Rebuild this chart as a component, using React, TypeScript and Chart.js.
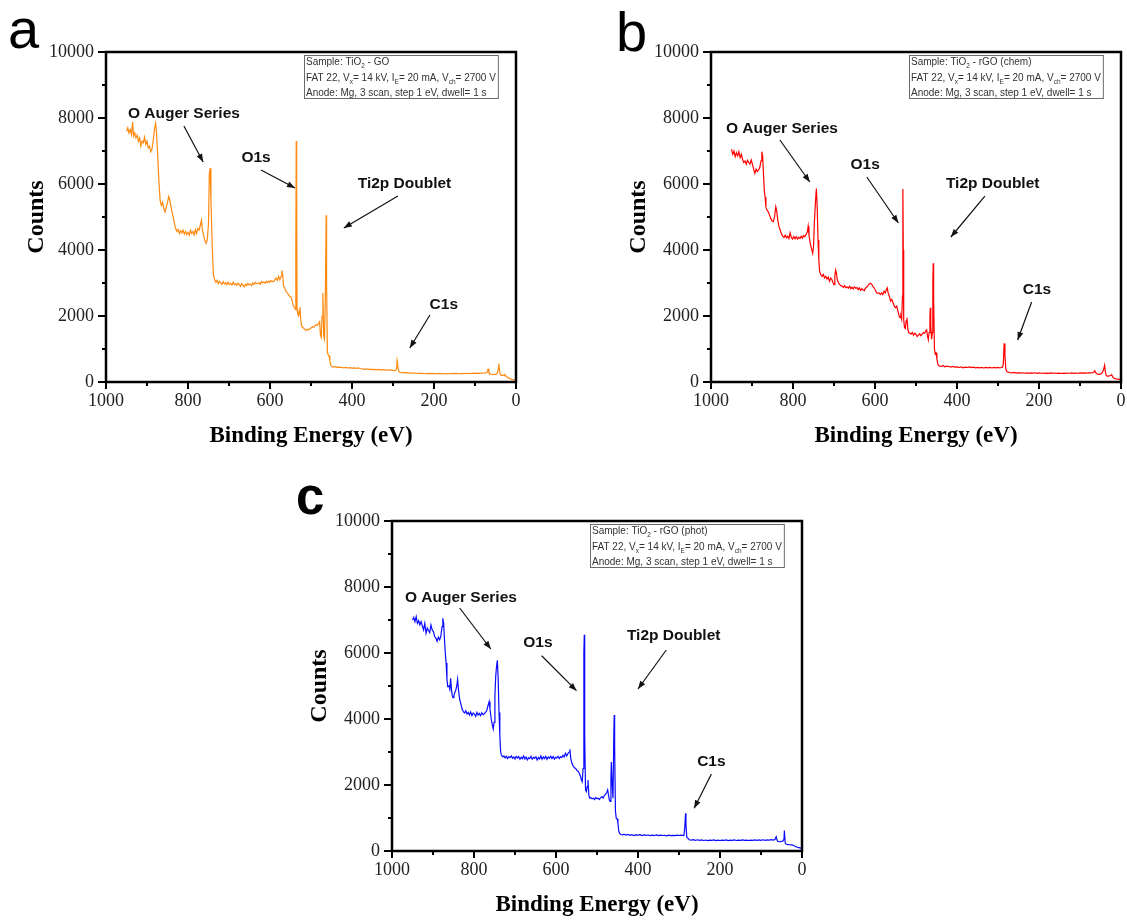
import React, { useEffect, useRef } from "react";
import { Chart, registerables } from "chart.js";

Chart.register(...registerables);

// ---------- axis ticks ----------
const Y_TICKS = [0, 2000, 4000, 6000, 8000, 10000];
const Y_MINOR = [1000, 3000, 5000, 7000, 9000];
const X_TICKS = [0, 200, 400, 600, 800, 1000];
const X_MINOR = [100, 300, 500, 700, 900];

// ---------- panel a : TiO2 - GO ----------
const ENERGY_A = [
  950, 947, 944, 941, 938, 935, 933, 930, 927, 924,
  921, 918, 915, 912, 909, 906, 903, 900, 897, 894,
  891, 888, 885, 882, 879, 877, 874, 871, 868, 865,
  862, 859, 856, 853, 850, 847, 845, 842, 839, 836,
  833, 830, 827, 824, 821, 818, 815, 812, 809, 806,
  803, 800, 797, 794, 791, 788, 785, 782, 779, 776,
  773, 770, 767, 765, 762, 759, 756, 753, 750, 748,
  746, 744, 742, 740, 738, 735, 732, 729, 726, 723,
  720, 717, 714, 711, 708, 705, 702, 699, 696, 693,
  690, 687, 684, 681, 678, 675, 672, 669, 666, 663,
  660, 657, 654, 651, 648, 645, 642, 639, 636, 633,
  630, 627, 624, 621, 618, 615, 612, 609, 606, 603,
  600, 597, 594, 591, 588, 585, 582, 579, 576, 573,
  571, 569, 567, 564, 561, 558, 555, 552, 549, 546,
  543, 540, 538, 537, 536, 535, 534, 532, 530, 528,
  527, 525, 523, 520, 517, 514, 511, 508, 505, 502,
  499, 496, 493, 490, 487, 484, 481, 479, 477, 475,
  473, 471, 469, 467, 465, 463, 462, 460, 458, 456,
  454, 452, 449, 446, 443, 440, 437, 434, 431, 428,
  425, 420, 415, 410, 405, 400, 395, 390, 385, 380,
  375, 370, 365, 360, 355, 350, 345, 340, 335, 330,
  325, 320, 315, 310, 305, 300, 296, 293, 291, 290,
  289, 287, 285, 282, 278, 274, 270, 265, 260, 255,
  250, 245, 240, 235, 230, 225, 220, 215, 210, 205,
  200, 195, 190, 185, 180, 175, 170, 165, 160, 155,
  150, 145, 140, 135, 130, 125, 120, 115, 110, 105,
  100, 95, 90, 85, 80, 75, 72, 70, 68, 66,
  63, 60, 56, 52, 48, 45, 43, 42, 40, 38,
  35, 32, 29, 27, 25, 22, 19, 16, 13, 10,
  7, 4, 2,
];
const COUNTS_A = [
  7600, 7700, 7550, 7650, 7500, 7880, 7450, 7550, 7400, 7480,
  7300, 7400, 7150, 7300, 7250, 7420, 7200, 7300, 7100, 7150,
  6980, 7050, 7300, 7650, 7840, 7600, 6900, 6100, 5500, 5350,
  5450, 5250, 5150, 5300, 5450, 5620, 5550, 5350, 5150, 5000,
  4800, 4650, 4560, 4620, 4500, 4580, 4520, 4600, 4480, 4560,
  4470, 4530, 4450, 4600, 4500, 4560, 4460, 4620, 4500, 4650,
  4600, 4750, 4900, 4600, 4450, 4300, 4200, 4300, 4800, 6300,
  6480, 5500, 4600, 3800, 3250, 3100, 3020, 3080, 2980, 3050,
  3000, 2960, 3040, 2970, 3010, 2950, 3030, 2960, 2990, 2940,
  3020, 2950, 2980, 2930, 3000, 2950, 2900, 2980, 2940, 2880,
  2960, 2920, 2990, 2940, 2970, 2920, 3000, 2950, 3020, 2980,
  2990, 3010, 2960, 3040, 3000, 3030, 2990, 3050, 3010, 3060,
  3020, 3080, 3040, 3050, 3100, 3150, 3080, 3200, 3100, 3200,
  3380, 3250, 2900, 2850, 2750, 2700, 2650, 2600, 2580, 2450,
  2300, 2250, 2200, 4000, 7300, 6000, 2200, 2050, 2000, 2150,
  2270, 1900, 1700, 1650, 1620, 1580, 1560, 1600, 1580, 1620,
  1640, 1680, 1660, 1700, 1740, 1720, 1790, 1830, 1420, 1350,
  2000, 2700, 1400, 1300, 2600, 5050, 3000, 900, 820, 800,
  650, 520, 470, 455, 470, 450, 460, 445, 450, 440,
  445, 430, 440, 425, 435, 420, 430, 415, 425, 410,
  400, 385, 395, 380, 390, 375, 385, 370, 380, 365,
  375, 360, 370, 355, 365, 350, 345, 360, 420, 640,
  560, 360, 310, 295, 285, 290, 275, 285, 270, 280,
  260, 272, 258, 268, 255, 265, 250, 262, 255, 260,
  248, 258, 252, 262, 250, 258, 245, 255, 250, 260,
  252, 262, 250, 258, 255, 265, 252, 262, 258, 268,
  260, 270, 262, 272, 265, 275, 280, 300, 390, 300,
  250, 235, 225, 230, 240, 280, 420, 560, 330, 210,
  200, 215, 190, 220, 180, 150, 130, 110, 95, 80,
  70, 65, 60,
];

// ---------- panel b : TiO2 - rGO (chem) ----------
const ENERGY_B = [
  950, 947, 944, 941, 938, 935, 932, 929, 926, 923,
  920, 917, 914, 911, 908, 905, 902, 899, 896, 893,
  890, 887, 884, 881, 878, 876, 874, 872, 870, 868,
  866, 863, 860, 857, 854, 851, 848, 845, 842, 840,
  837, 834, 831, 828, 825, 822, 819, 816, 813, 810,
  807, 804, 801, 798, 795, 792, 789, 786, 783, 780,
  777, 774, 771, 768, 765, 763, 761, 758, 755, 752,
  750, 748, 745, 743, 741, 739, 737, 735, 732, 729,
  726, 723, 720, 717, 714, 711, 708, 705, 702, 700,
  698, 696, 694, 692, 689, 686, 683, 680, 677, 674,
  671, 668, 665, 662, 659, 656, 653, 650, 647, 644,
  641, 638, 635, 632, 629, 626, 623, 620, 617, 614,
  611, 608, 605, 602, 599, 596, 593, 590, 587, 584,
  581, 578, 575, 572, 570, 568, 565, 562, 559, 556,
  553, 550, 547, 544, 541, 539, 537, 535, 533, 532,
  531, 530, 528, 526, 524, 522, 520, 518, 515, 512,
  509, 506, 503, 500, 497, 494, 491, 488, 485, 482,
  479, 476, 474, 472, 470, 468, 466, 465, 464, 462,
  460, 459, 458, 457, 455, 453, 451, 449, 447, 445,
  442, 438, 434, 430, 425, 420, 415, 410, 405, 400,
  395, 390, 385, 380, 375, 370, 365, 360, 355, 350,
  345, 340, 335, 330, 325, 320, 315, 310, 305, 300,
  296, 292, 289, 287, 285, 283, 281, 278, 275, 270,
  265, 260, 255, 250, 245, 240, 235, 230, 225, 220,
  215, 210, 205, 200, 195, 190, 185, 180, 175, 170,
  165, 160, 155, 150, 145, 140, 135, 130, 125, 120,
  115, 110, 105, 100, 95, 90, 85, 80, 75, 70,
  66, 64, 62, 60, 57, 53, 49, 45, 42, 40,
  38, 36, 33, 30, 27, 24, 22, 19, 16, 12,
  8, 5, 2,
];
const COUNTS_B = [
  7050, 6900, 7000, 6830, 6950, 6850, 6980, 6800, 6900, 6750,
  6650, 6700, 6600, 6720, 6650, 6600, 6730, 6600, 6450, 6320,
  6450, 6380, 6430, 6500, 6700, 6980, 6850, 6300, 5800, 5600,
  5300, 5200, 5150, 5050, 4950, 4880, 4860, 5000, 5310, 5200,
  4900, 4700, 4600, 4480, 4420, 4380, 4450, 4370, 4420, 4350,
  4520, 4380, 4330, 4410, 4340, 4400, 4330, 4390, 4350, 4420,
  4360, 4440, 4400, 4480, 4550, 4720, 4450, 4200, 4050, 3900,
  4100, 4800, 5500, 5860, 5300, 4300, 3700, 3350, 3250, 3200,
  3260, 3150, 3200, 3120, 3180, 3050, 3150, 3100, 3000, 2950,
  3200, 3390, 3300, 3100, 3000, 2950, 2920, 2900, 2870, 2920,
  2860, 2880, 2840, 2900, 2830, 2870, 2820, 2880, 2840, 2860,
  2800, 2850, 2780, 2830, 2790, 2770, 2850, 2880, 2920, 2970,
  2990, 2960, 2900, 2850, 2780, 2700, 2690, 2700, 2650, 2700,
  2650, 2750, 2700, 2800, 2850, 2700, 2600, 2450, 2500, 2400,
  2300, 2250, 2300, 2150, 2000, 1950, 2000, 1900, 2600, 5850,
  4000, 1900, 1650, 1620, 1850, 1950, 1600, 1500, 1480, 1450,
  1500, 1420, 1480, 1440, 1380, 1420, 1460, 1400, 1450, 1500,
  1480, 1550, 1580, 1400, 1280, 1500, 2000, 2250, 1700, 1300,
  1500, 3000, 3600, 2500, 1000, 850, 880, 700, 550, 500,
  480, 470, 500, 460, 480, 470, 450, 470, 450, 460,
  440, 460, 430, 450, 440, 455, 435, 450, 430, 445,
  430, 445, 425, 440, 430, 445, 425, 440, 430, 440,
  430, 440, 450, 550, 1170, 800, 400, 310, 300, 285,
  275, 290, 270, 285, 268, 280, 265, 278, 262, 275,
  268, 280, 262, 275, 265, 272, 260, 270, 262, 275,
  265, 272, 262, 270, 258, 268, 262, 272, 265, 275,
  262, 270, 265, 275, 268, 278, 270, 280, 275, 285,
  300, 340, 290, 260, 240, 230, 245, 300, 400, 510,
  300, 200, 170, 185, 190, 200, 205, 130, 110, 90,
  85, 82, 80,
];

// ---------- panel c : TiO2 - rGO (phot) ----------
const ENERGY_C = [
  950, 947, 944, 941, 938, 935, 932, 929, 926, 923,
  920, 917, 914, 911, 908, 905, 902, 899, 896, 893,
  890, 887, 884, 881, 878, 876, 874, 872, 870, 868,
  866, 864, 861, 859, 857, 855, 853, 851, 849, 847,
  845, 842, 840, 838, 835, 832, 829, 826, 823, 820,
  817, 814, 811, 808, 805, 802, 799, 796, 793, 790,
  787, 784, 781, 778, 775, 772, 769, 766, 763, 761,
  758, 755, 753, 751, 749, 747, 745, 743, 741, 739,
  737, 735, 733, 730, 727, 724, 721, 718, 715, 712,
  709, 706, 703, 700, 697, 694, 691, 688, 685, 682,
  679, 676, 673, 670, 667, 664, 661, 658, 655, 652,
  649, 646, 643, 640, 637, 634, 631, 628, 625, 622,
  619, 616, 613, 610, 607, 604, 601, 598, 595, 592,
  589, 586, 583, 580, 577, 574, 571, 568, 566, 564,
  561, 558, 555, 552, 549, 546, 543, 540, 538, 536,
  534, 532, 531, 530, 528, 526, 524, 522, 520, 518,
  515, 512, 509, 506, 503, 500, 497, 494, 491, 488,
  485, 482, 479, 476, 474, 472, 470, 468, 466, 465,
  463, 461, 459, 458, 457, 455, 453, 451, 449, 447,
  445, 442, 438, 434, 430, 425, 420, 415, 410, 405,
  400, 395, 390, 385, 380, 375, 370, 365, 360, 355,
  350, 345, 340, 335, 330, 325, 320, 315, 310, 305,
  300, 296, 292, 288, 286, 284, 283, 281, 278, 275,
  270, 265, 260, 255, 250, 245, 240, 235, 230, 225,
  220, 215, 210, 205, 200, 195, 190, 185, 180, 175,
  170, 165, 160, 155, 150, 145, 140, 135, 130, 125,
  120, 115, 110, 105, 100, 95, 90, 85, 80, 75,
  70, 66, 63, 60, 57, 54, 50, 47, 44, 43,
  41, 39, 37, 33, 30, 26, 23, 18, 15, 10,
  5, 1,
];
const COUNTS_C = [
  7000, 7080, 6950, 7100, 6900, 6980, 6850, 6950, 6820, 6700,
  6900, 6600, 6750, 6680, 6620, 6850, 6700, 6650, 6500, 6450,
  6350, 6480, 6400, 6500, 6800, 7050, 6900, 6400, 6000, 5700,
  5200, 4980, 5000, 4900, 5230, 4900, 4700, 4650, 4700, 4800,
  4850, 5000, 5200, 4900, 4600, 4450, 4300, 4220, 4180, 4250,
  4150, 4200, 4120, 4210, 4100, 4180, 4150, 4080, 4200, 4120,
  4170, 4100, 4190, 4130, 4160, 4200, 4250, 4400, 4530, 4300,
  4000, 3800, 3700, 3900, 4700, 5300, 5600, 5780, 5200, 4200,
  3500, 3000, 2900, 2850, 2880, 2820, 2870, 2800, 2860, 2830,
  2880, 2810, 2850, 2790, 2870, 2820, 2860, 2780, 2840, 2800,
  2880, 2790, 2850, 2760, 2830, 2800, 2870, 2780, 2840, 2810,
  2860, 2760, 2830, 2790, 2880, 2780, 2850, 2800, 2870, 2780,
  2850, 2810, 2870, 2800, 2860, 2780, 2840, 2820, 2870, 2800,
  2860, 2830, 2900, 2850, 2960, 2880, 2950, 3000, 3080, 2800,
  2650, 2580, 2520, 2500, 2440, 2420, 2350, 2250, 2150, 2100,
  2500, 6000, 6550, 3500, 1850, 1800, 1950, 2150, 1700, 1600,
  1620, 1580, 1600, 1560, 1620, 1580, 1600, 1560, 1620, 1650,
  1600, 1680, 1720, 1780, 1850, 1700, 1550, 1500, 2200, 2700,
  2000, 1600, 3500, 4120, 3200, 1200, 990, 980, 850, 600,
  530, 500, 490, 510, 480, 500, 475, 495, 470, 490,
  480, 495, 470, 490, 475, 485, 465, 480, 470, 485,
  465, 480, 470, 475, 460, 478, 465, 475, 468, 480,
  470, 480, 475, 470, 700, 1140, 800, 420, 380, 340,
  330, 345, 325, 340, 320, 335, 318, 332, 315, 330,
  320, 335, 315, 330, 318, 332, 320, 335, 315, 328,
  322, 335, 318, 330, 320, 338, 322, 332, 318, 330,
  325, 338, 320, 335, 322, 340, 325, 335, 330, 345,
  330, 350, 430, 300, 285, 280, 290, 300, 350, 620,
  250, 210, 200, 195, 190, 185, 180, 150, 130, 110,
  95, 80,
];

// ---------- texts ----------
const PEAK_NAMES = ["O Auger Series", "O1s", "Ti2p Doublet", "C1s"];
const SAMPLES = ["GO", "rGO (chem)", "rGO (phot)"];
const X_TITLE = "Binding Energy (eV)";
const Y_TITLE = "Counts";

type Seg = [string, boolean];
const legendLines = (sample: string): Seg[][] => [
  [["Sample: TiO", false], ["2", true], [" - " + sample, false]],
  [["FAT 22, V", false], ["x", true], ["= 14 kV, I", false], ["E", true], ["= 20 mA, V", false], ["ch", true], ["= 2700 V", false]],
  [["Anode: Mg, 3 scan, step 1 eV, dwell= 1 s", false]],
];

type Note = { text: string; at: [number, number]; from: [number, number]; to: [number, number] };

type PanelCfg = {
  letter: string;
  letterFont: string;
  letterPos: [number, number];
  left: number; top: number; w: number; h: number;
  pad: { left: number; top: number; right: number; bottom: number };
  xHeight: number;
  xTitlePad: number;
  yTitlePad: number;
  color: string;
  energy: number[];
  counts: number[];
  sample: string;
  notes: Note[];
};

const SANS = '"Liberation Sans", Arial, Helvetica, sans-serif';
const SERIF = '"Liberation Serif", "Times New Roman", Times, serif';

const PANELS: PanelCfg[] = [
  {
    letter: "a", letterFont: `56px ${SANS}`, letterPos: [8, 48],
    left: 0, top: 0, w: 560, h: 460,
    pad: { left: 0, top: 52, right: 44, bottom: 0 },
    xHeight: 78, xTitlePad: 10, yTitlePad: 22,
    color: "#ff8a10", energy: ENERGY_A, counts: COUNTS_A, sample: SAMPLES[0],
    notes: [
      { text: PEAK_NAMES[0], at: [810, 8121], from: [810, 7758], to: [763, 6667] },
      { text: PEAK_NAMES[1], at: [634, 6788], from: [622, 6424], to: [539, 5879] },
      { text: PEAK_NAMES[2], at: [272, 6000], from: [288, 5636], to: [420, 4667] },
      { text: PEAK_NAMES[3], at: [176, 2333], from: [210, 2030], to: [259, 1030] },
    ],
  },
  {
    letter: "b", letterFont: `56px ${SANS}`, letterPos: [56, 51],
    left: 560, top: 0, w: 567, h: 460,
    pad: { left: 45, top: 52, right: 6, bottom: 0 },
    xHeight: 78, xTitlePad: 10, yTitlePad: 19,
    color: "#ff0000", energy: ENERGY_B, counts: COUNTS_B, sample: SAMPLES[1],
    notes: [
      { text: PEAK_NAMES[0], at: [827, 7667], from: [832, 7333], to: [759, 6061] },
      { text: PEAK_NAMES[1], at: [624, 6576], from: [620, 6212], to: [543, 4818] },
      { text: PEAK_NAMES[2], at: [313, 6000], from: [332, 5636], to: [415, 4394] },
      { text: PEAK_NAMES[3], at: [205, 2788], from: [218, 2424], to: [252, 1273] },
    ],
  },
  {
    letter: "c", letterFont: `bold 51px ${SANS}`, letterPos: [16, 44],
    left: 280, top: 470, w: 566, h: 450,
    pad: { left: 6, top: 51, right: 44, bottom: 0 },
    xHeight: 69, xTitlePad: 1, yTitlePad: 19,
    color: "#0a0aff", energy: ENERGY_C, counts: COUNTS_C, sample: SAMPLES[2],
    notes: [
      { text: PEAK_NAMES[0], at: [832, 7676], from: [835, 7364], to: [759, 6121] },
      { text: PEAK_NAMES[1], at: [644, 6312], from: [635, 5918], to: [550, 4858] },
      { text: PEAK_NAMES[2], at: [313, 6524], from: [331, 6091], to: [400, 4909] },
      { text: PEAK_NAMES[3], at: [221, 2706], from: [221, 2333], to: [263, 1294] },
    ],
  },
];

function drawArrow(ctx: CanvasRenderingContext2D, x0: number, y0: number, x1: number, y1: number) {
  ctx.beginPath();
  ctx.moveTo(x0, y0);
  ctx.lineTo(x1, y1);
  ctx.stroke();
  const ang = Math.atan2(y1 - y0, x1 - x0);
  const L = 8, W = 3;
  const c = Math.cos(ang), s = Math.sin(ang);
  ctx.beginPath();
  ctx.moveTo(x1, y1);
  ctx.lineTo(x1 - L * c + W * s, y1 - L * s - W * c);
  ctx.lineTo(x1 - L * c - W * s, y1 - L * s + W * c);
  ctx.closePath();
  ctx.fill();
}

function makeDecor(p: PanelCfg) {
  return {
    id: "decor" + p.letter,
    afterDatasetsDraw(chart: any) {
      const { ctx, chartArea: a, scales } = chart;
      const xs = scales.x, ys = scales.y;
      ctx.save();
      // frame
      ctx.strokeStyle = "#000";
      ctx.lineWidth = 2.5;
      ctx.strokeRect(a.left, a.top, a.right - a.left, a.bottom - a.top);
      // ticks (outward)
      ctx.lineWidth = 2;
      ctx.beginPath();
      for (const v of Y_TICKS) { const y = ys.getPixelForValue(v); ctx.moveTo(a.left - 8, y); ctx.lineTo(a.left, y); }
      for (const v of Y_MINOR) { const y = ys.getPixelForValue(v); ctx.moveTo(a.left - 4, y); ctx.lineTo(a.left, y); }
      for (const v of X_TICKS) { const x = xs.getPixelForValue(v); ctx.moveTo(x, a.bottom); ctx.lineTo(x, a.bottom + 7); }
      for (const v of X_MINOR) { const x = xs.getPixelForValue(v); ctx.moveTo(x, a.bottom); ctx.lineTo(x, a.bottom + 4); }
      ctx.stroke();

      // annotations
      ctx.fillStyle = "#111";
      ctx.strokeStyle = "#111";
      ctx.lineWidth = 1.2;
      ctx.font = `bold 15.5px ${SANS}`;
      ctx.textAlign = "center";
      ctx.textBaseline = "middle";
      for (const n of p.notes) {
        ctx.fillText(n.text, xs.getPixelForValue(n.at[0]), ys.getPixelForValue(n.at[1]));
        drawArrow(ctx,
          xs.getPixelForValue(n.from[0]), ys.getPixelForValue(n.from[1]),
          xs.getPixelForValue(n.to[0]), ys.getPixelForValue(n.to[1]));
      }

      // legend box
      const lines = legendLines(p.sample);
      const fs = 10, ss = 6.5;
      const widths = lines.map((line) =>
        line.reduce((w, [t, sub]) => {
          ctx.font = `${sub ? ss : fs}px ${SANS}`;
          return w + ctx.measureText(t).width;
        }, 0)
      );
      const bw = Math.max(...widths) + 4;
      const bh = 43;
      const bx = Math.round(a.right - 18 - bw);
      const by = Math.round(a.top + 3);
      ctx.fillStyle = "#fff";
      ctx.fillRect(bx, by, bw, bh);
      ctx.strokeStyle = "#6a6a6a";
      ctx.lineWidth = 1;
      ctx.strokeRect(bx + 0.5, by + 0.5, bw, bh);
      ctx.textAlign = "left";
      ctx.textBaseline = "alphabetic";
      ctx.fillStyle = "#333";
      const bases = [10, 26, 41];
      lines.forEach((line, i) => {
        let x = bx + 2;
        for (const [t, sub] of line) {
          ctx.font = `${sub ? ss : fs}px ${SANS}`;
          ctx.fillText(t, x, by + bases[i] + (sub ? 3 : 0));
          x += ctx.measureText(t).width;
        }
      });

      // panel letter
      ctx.fillStyle = "#000";
      ctx.font = p.letterFont;
      ctx.textAlign = "left";
      ctx.textBaseline = "alphabetic";
      ctx.fillText(p.letter, p.letterPos[0], p.letterPos[1]);
      ctx.restore();
    },
  };
}

function Panel({ p }: { p: PanelCfg }) {
  const ref = useRef<HTMLCanvasElement>(null);
  useEffect(() => {
    const canvas = ref.current;
    if (!canvas) return;
    const data = p.energy.map((e, i) => ({ x: e, y: p.counts[i] }));
    const chart = new Chart(canvas, {
      type: "line",
      data: {
        datasets: [
          {
            data,
            borderColor: p.color,
            borderWidth: 1.2,
            pointRadius: 0,
            tension: 0,
            fill: false,
          },
        ],
      },
      options: {
        responsive: false,
        maintainAspectRatio: false,
        animation: false,
        events: [],
        layout: { padding: p.pad },
        plugins: { legend: { display: false }, tooltip: { enabled: false } },
        scales: {
          x: {
            type: "linear",
            reverse: true,
            min: 0,
            max: 1000,
            afterBuildTicks: (s: any) => { s.ticks = X_TICKS.map((v) => ({ value: v })); },
            afterFit: (s: any) => { s.height = p.xHeight; },
            grid: { display: false, drawTicks: false },
            border: { display: false },
            ticks: {
              autoSkip: false,
              maxRotation: 0,
              padding: 8,
              color: "#222",
              font: { family: SERIF, size: 18 },
              callback: (v: any) => String(v),
            },
            title: {
              display: true,
              text: X_TITLE,
              color: "#000",
              font: { family: SERIF, size: 23, weight: "bold" },
              padding: { top: 0, bottom: p.xTitlePad },
            },
          },
          y: {
            type: "linear",
            min: 0,
            max: 10000,
            afterBuildTicks: (s: any) => { s.ticks = Y_TICKS.map((v) => ({ value: v })); },
            afterFit: (s: any) => { s.width = 106; },
            grid: { display: false, drawTicks: false },
            border: { display: false },
            ticks: {
              autoSkip: false,
              padding: 12,
              color: "#222",
              font: { family: SERIF, size: 18 },
              callback: (v: any) => String(v),
            },
            title: {
              display: true,
              text: Y_TITLE,
              color: "#000",
              font: { family: SERIF, size: 24, weight: "bold" },
              padding: { top: p.yTitlePad, bottom: 0 },
            },
          },
        },
      },
      plugins: [makeDecor(p)],
    } as any);
    return () => chart.destroy();
  }, [p]);
  return (
    <canvas
      ref={ref}
      width={p.w}
      height={p.h}
      style={{ position: "absolute", left: p.left, top: p.top, width: p.w, height: p.h }}
    />
  );
}

export default function App() {
  return (
    <div
      style={{
        position: "absolute",
        left: 0,
        top: 0,
        width: 1127,
        height: 920,
        overflow: "hidden",
        background: "#fff",
      }}
    >
      {PANELS.map((p) => (
        <Panel key={p.letter} p={p} />
      ))}
    </div>
  );
}
